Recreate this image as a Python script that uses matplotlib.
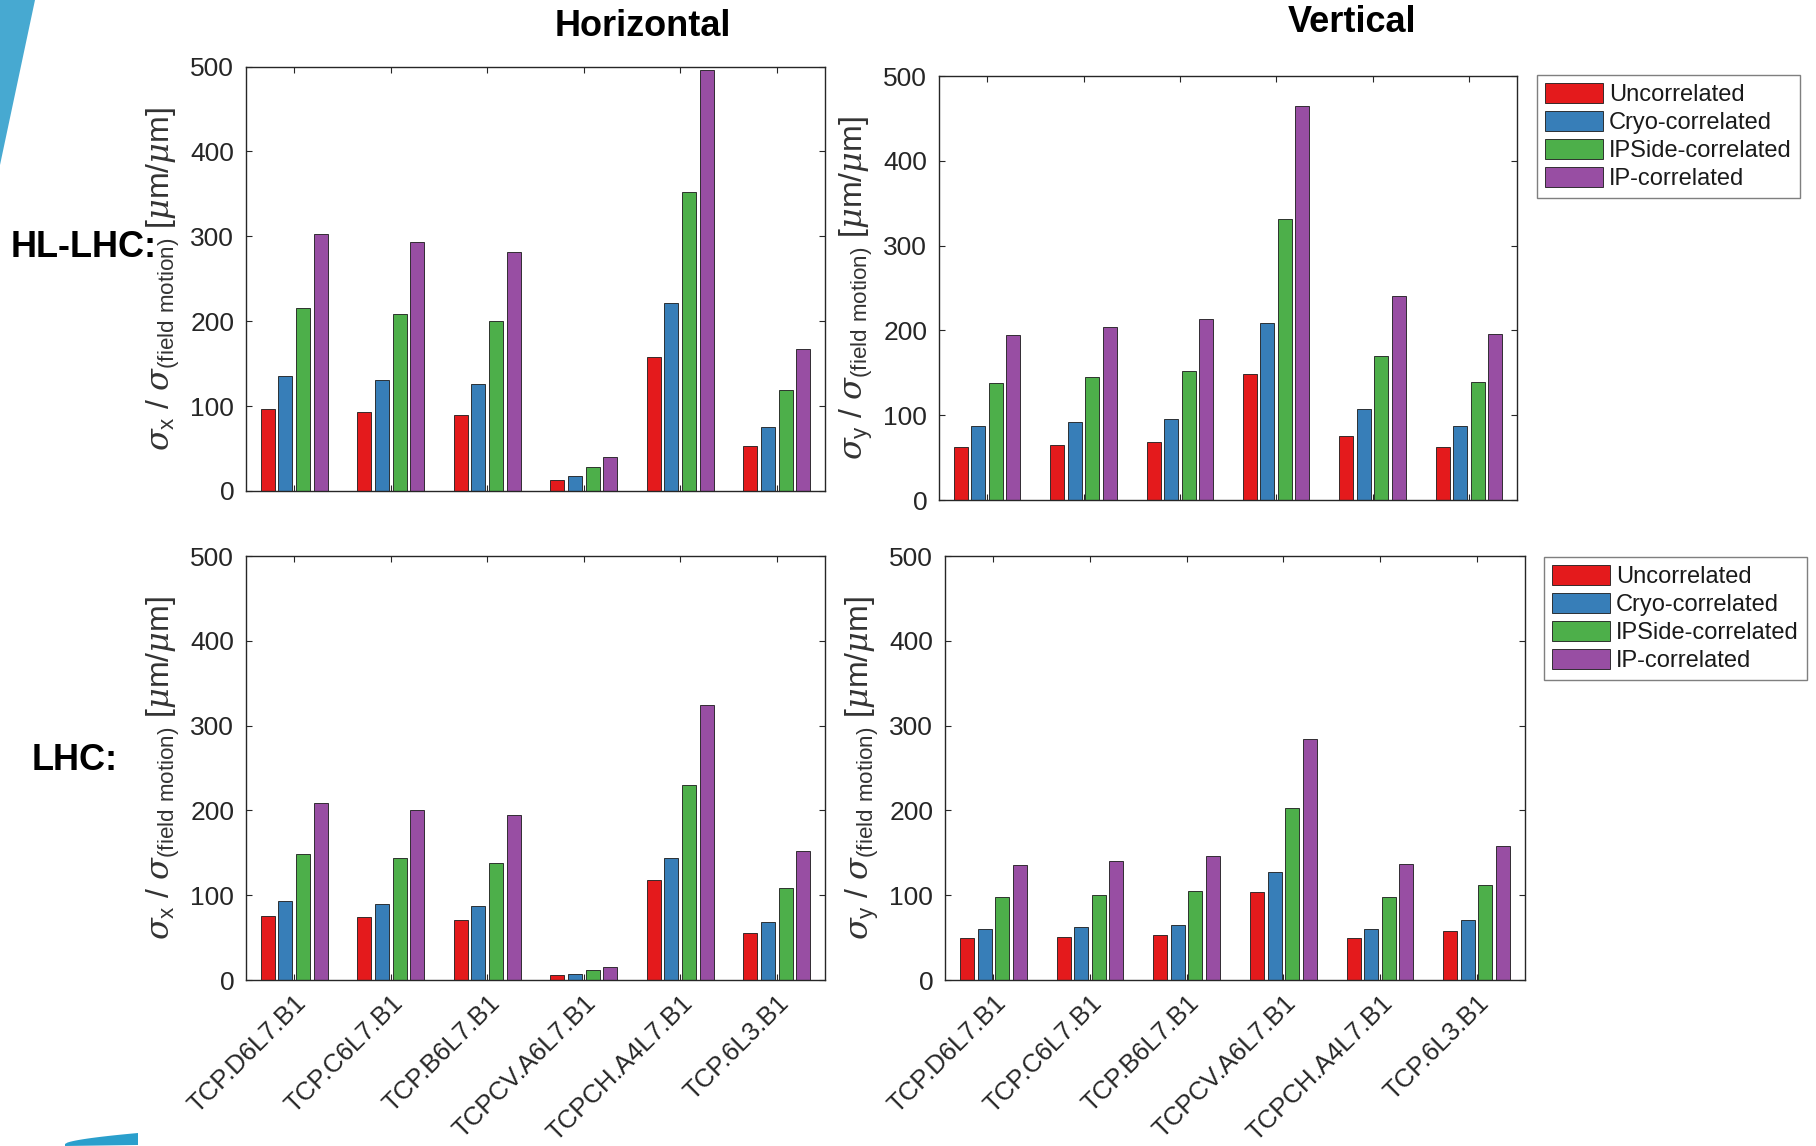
import matplotlib
matplotlib.use("Agg")
import matplotlib.pyplot as plt
import numpy as np
from matplotlib.patches import Polygon

plt.rcParams['font.family'] = ['Liberation Sans', 'DejaVu Sans']
plt.rcParams['mathtext.fontset'] = 'custom'
plt.rcParams['mathtext.rm'] = 'Liberation Sans'
plt.rcParams['mathtext.it'] = 'DejaVu Serif:italic'
plt.rcParams['mathtext.bf'] = 'Liberation Sans:bold'

collimators = ["TCP.D6L7.B1", "TCP.C6L7.B1", "TCP.B6L7.B1",
               "TCPCV.A6L7.B1", "TCPCH.A4L7.B1", "TCP.6L3.B1"]
series = ["Uncorrelated", "Cryo-correlated", "IPSide-correlated", "IP-correlated"]
colors = ["#E41A1C", "#377EB8", "#4DAF4A", "#984EA3"]

# HL-LHC horizontal (rows: series, cols: collimators)
hl_uncorr_h = [97, 93, 90, 12.6, 158, 53.5]
hl_cryo_h   = [136, 131, 126, 17.7, 222, 75]
hl_ipside_h = [216, 208, 200, 28, 352, 119]
hl_ip_h     = [303, 293, 282, 40.5, 496, 167]
# HL-LHC vertical
hl_uncorr_v = [62, 65, 68, 148.5, 76, 62.5]
hl_cryo_v   = [87, 92, 96, 208.5, 107, 87.6]
hl_ipside_v = [138, 145, 152, 331, 170, 138.6]
hl_ip_v     = [195, 204, 214, 465, 240, 196]
# LHC horizontal
lhc_uncorr_h = [76, 74, 70.3, 5.5, 118.4, 55.5]
lhc_cryo_h   = [93.4, 89.7, 87, 7.4, 143.8, 68]
lhc_ipside_h = [148, 143.4, 138, 11.6, 230, 108]
lhc_ip_h     = [209, 201, 194, 15.7, 324, 151.7]
# LHC vertical
lhc_uncorr_v = [49.6, 51, 53.3, 103.8, 49.6, 57.5]
lhc_cryo_v   = [60.7, 62.6, 65.3, 127, 60.7, 70.4]
lhc_ipside_v = [97.3, 100, 104.7, 203, 97.3, 111.7]
lhc_ip_v     = [136.2, 140.9, 146.4, 284.5, 136.7, 158.5]

yticks = [0, 100, 200, 300, 400, 500]

W, H = 1816, 1146
fig = plt.figure(figsize=(W / 100, H / 100), dpi=100)
fig.patch.set_facecolor('white')

# slide decorations
fig.patches.append(Polygon([[0, 1], [35 / W, 1], [0, 1 - 165 / H]], closed=True,
                           transform=fig.transFigure, facecolor='#47a9d1',
                           edgecolor='none', zorder=0))
sw_x = np.linspace(65, 138, 30)
sw_top = 1146 - 2 - 11 * ((sw_x - 65) / 73) ** 0.6
sw_bot = 1146 - 1 * ((sw_x - 65) / 73)
pts = [[xx / W, 1 - yy / H] for xx, yy in zip(sw_x, sw_top)] + \
      [[xx / W, 1 - yy / H] for xx, yy in zip(sw_x[::-1], sw_bot[::-1])]
fig.patches.append(Polygon(pts, closed=True, transform=fig.transFigure,
                           facecolor='#2a9fcc', edgecolor='none', zorder=0))

def px_axes(left, top, right, bottom):
    return fig.add_axes([left / W, 1 - bottom / H, (right - left) / W, (bottom - top) / H])

axes_specs = [
    (px_axes(246, 66.5, 825, 491), [hl_uncorr_h, hl_cryo_h, hl_ipside_h, hl_ip_h], 'x', False),
    (px_axes(939, 76, 1517, 500), [hl_uncorr_v, hl_cryo_v, hl_ipside_v, hl_ip_v], 'y', False),
    (px_axes(246, 556, 825, 980), [lhc_uncorr_h, lhc_cryo_h, lhc_ipside_h, lhc_ip_h], 'x', True),
    (px_axes(945, 556, 1525, 980), [lhc_uncorr_v, lhc_cryo_v, lhc_ipside_v, lhc_ip_v], 'y', True),
]

x = np.arange(1, len(collimators) + 1)
step = 0.182
bw = 0.145
txt = '#262626'

for ax, data, comp, show_labels in axes_specs:
    for i, vals in enumerate(data):
        ax.bar(x + (i - 1.5) * step, vals, width=bw, color=colors[i],
               edgecolor='#1a1a1a', linewidth=0.6, label=series[i], zorder=2)
    ax.set_xlim(0.5, 6.5)
    ax.set_ylim(0, 500)
    ax.set_yticks(yticks)
    ax.set_xticks(x)
    if show_labels:
        ax.set_xticklabels(collimators, rotation=45, ha='right', va='top',
                           rotation_mode='anchor', fontsize=18.5)
    else:
        ax.set_xticklabels([])
    ax.tick_params(axis='both', direction='in', length=4.3, width=0.8,
                   colors=txt, pad=8.5)
    ax.tick_params(axis='y', labelsize=19, left=True, right=True)
    ax.tick_params(axis='x', top=True, bottom=True, pad=8)
    for sp in ax.spines.values():
        sp.set_color(txt)
        sp.set_linewidth(1.0)
    ax.set_ylabel(r'$\sigma_{\rm ' + comp + r'}$ / $\sigma_{\rm (field\ motion)}$ [$\mu$m/$\mu$m]',
                  fontsize=23, color='#333333')
    ax.yaxis.set_label_coords(-0.110, 0.5)

for ax, (lx, ly) in [(axes_specs[1][0], (1537, 75)), (axes_specs[3][0], (1544, 557))]:
    leg = ax.legend(loc='upper left', bbox_to_anchor=(lx / W, 1 - ly / H),
                    bbox_transform=fig.transFigure, borderaxespad=0,
                    fontsize=17, frameon=True, fancybox=False, framealpha=1,
                    handlelength=2.45, handleheight=0.93, handletextpad=0.25,
                    labelspacing=0.2, borderpad=0.35)
    leg.get_frame().set_edgecolor('#7f7f7f')
    leg.get_frame().set_linewidth(1.0)
    for t in leg.get_texts():
        t.set_color('#1a1a1a')

fig.text(643 / W, 1 - 26 / H, 'Horizontal', fontsize=26, fontweight='bold',
         ha='center', va='center', color='black')
fig.text(1352 / W, 1 - 22 / H, 'Vertical', fontsize=26, fontweight='bold',
         ha='center', va='center', color='black')
fig.text(11 / W, 1 - 247 / H, 'HL-LHC:', fontsize=26, fontweight='bold',
         ha='left', va='center', color='black')
fig.text(32 / W, 1 - 761 / H, 'LHC:', fontsize=26, fontweight='bold',
         ha='left', va='center', color='black')

fig.savefig('out.png', dpi=100, facecolor='white')
